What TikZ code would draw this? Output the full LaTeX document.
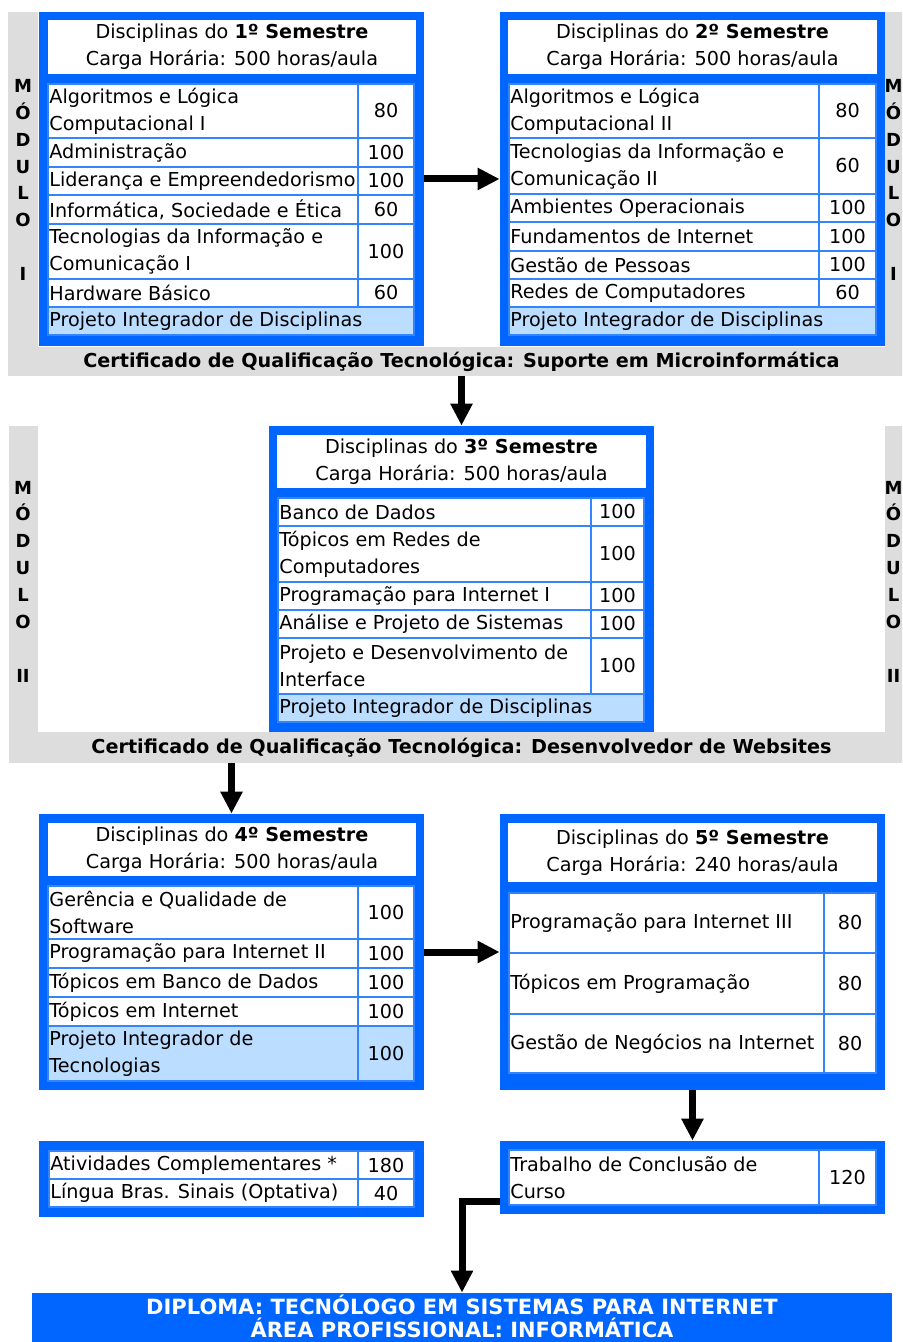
\documentclass[tikz,border=0pt]{standalone}
\usepackage{fontspec}
\setmainfont{DejaVu Sans}
\usetikzlibrary{fit,arrows.meta}
\definecolor{GradeBlue}{HTML}{0066FF}
\definecolor{GradeLine}{HTML}{3385FF}
\definecolor{GradeLight}{HTML}{BBDDFF}
\definecolor{GradeGray}{HTML}{DDDDDD}

\newcommand{\tabfont}{\fontsize{9.6pt}{13.5pt}\selectfont}

\tikzset{
  panel/.style={fill=GradeGray, inner sep=0pt},
  panelin/.style={fill=white, inner sep=0pt},
  bluebox/.style={fill=GradeBlue, inner sep=0pt},
  headbox/.style={fill=white, inner sep=0pt},
  headtext/.style={inner sep=0pt, align=center, font=\tabfont},
  cellbox/.style={draw=GradeLine, line width=1pt, inner sep=0pt},
  subjtext/.style={inner sep=1pt, align=left, font=\tabfont},
  hourtext/.style={inner sep=0pt, font=\tabfont},
  modtext/.style={align=center, font=\fontsize{9pt}{13.43pt}\selectfont\bfseries},
  certtext/.style={font=\fontsize{9.6pt}{11pt}\selectfont\bfseries},
  flow/.style={line width=3.5pt, -{Triangle[width=10.5pt,length=11pt]}},
}

% one subject row: [fill]{name}{top}{bottom}{subject}{hours}
\newcommand{\subj}[6][white]{%
  \node[cellbox, fill=#1, fit={(\tabL,#3) (\tabM,#4)}] (#2) {};
  \node[subjtext, anchor=west] (#2t) at (#2.west) {#5};
  \node[cellbox, fill=#1, fit={(\tabM,#3) (\tabR,#4)}] (#2h) {};
  \node[hourtext] (#2n) at (#2h.center) {#6};
}
% the light blue closing row
\newcommand{\projrow}[3]{%
  \node[cellbox, fill=GradeLight, fit={(\tabL,#2) (\tabR,#3)}] (#1) {};
  \node[subjtext, anchor=west] (#1t) at (#1.west) {Projeto Integrador de Disciplinas};
}

\begin{document}
\begin{tikzpicture}[x=0.5pt,y=-0.5pt]
\useasboundingbox (0,0) rectangle (902,1342);
\clip (0,0) rectangle (902,1342);

% module frames
\node[panel, fit={(8,12) (912,376)}] (panelA) {};
\node[panelin, fit={(38,12) (885,347)}] (panelAin) {};
\node[panel, fit={(9,426) (912,763)}] (panelB) {};
\node[panelin, fit={(38,426) (885,732)}] (panelBin) {};
\node[modtext] (modAl) at (23,180) {M\\Ó\\D\\U\\L\\O\\~\\I};
\node[modtext] (modAr) at (893.5,180) {M\\Ó\\D\\U\\L\\O\\~\\I};
\node[modtext] (modBl) at (23,581.5) {M\\Ó\\D\\U\\L\\O\\~\\II};
\node[modtext] (modBr) at (893.5,581.5) {M\\Ó\\D\\U\\L\\O\\~\\II};
\node[certtext] (certA) at (461.5,362) {Certificado de Qualificação Tecnológica: Suporte em Microinformática};
\node[certtext] (certB) at (461.5,748) {Certificado de Qualificação Tecnológica: Desenvolvedor de Websites};

% 1st semester
\node[bluebox, fit={(39,12) (424,346)}] (sem1) {};
\node[headbox, fit={(48,20) (416,74)}] (sem1head) {};
\node[headtext] (sem1title) at (sem1head.center) {Disciplinas do \textbf{1º Semestre}\\Carga Horária: 500 horas/aula};
\def\tabL{48}\def\tabM{358}\def\tabR{414}
\subj{s1a}{84}{138}{Algoritmos e Lógica\\Computacional I}{80}
\subj{s1b}{138}{167}{Administração}{100}
\subj{s1c}{167}{195}{Liderança e Empreendedorismo}{100}
\subj{s1d}{195}{224}{Informática, Sociedade e Ética}{60}
\subj{s1e}{224}{279}{Tecnologias da Informação e\\Comunicação I}{100}
\subj{s1f}{279}{307}{Hardware Básico}{60}
\projrow{s1g}{307}{335}

% 2nd semester
\node[bluebox, fit={(500,12) (885,346)}] (sem2) {};
\node[headbox, fit={(508,20) (877,74)}] (sem2head) {};
\node[headtext] (sem2title) at (sem2head.center) {Disciplinas do \textbf{2º Semestre}\\Carga Horária: 500 horas/aula};
\def\tabL{509}\def\tabM{819}\def\tabR{876}
\subj{s2a}{84}{138}{Algoritmos e Lógica\\Computacional II}{80}
\subj{s2b}{138}{194}{Tecnologias da Informação e\\Comunicação II}{60}
\subj{s2c}{194}{222}{Ambientes Operacionais}{100}
\subj{s2d}{222}{251}{Fundamentos de Internet}{100}
\subj{s2e}{251}{279}{Gestão de Pessoas}{100}
\subj{s2f}{279}{307}{Redes de Computadores}{60}
\projrow{s2g}{307}{335}

% 3rd semester
\node[bluebox, fit={(269,426) (654,732)}] (sem3) {};
\node[headbox, fit={(277,435) (646,488)}] (sem3head) {};
\node[headtext] (sem3title) at (sem3head.center) {Disciplinas do \textbf{3º Semestre}\\Carga Horária: 500 horas/aula};
\def\tabL{278}\def\tabM{591}\def\tabR{644}
\subj{s3a}{498}{526}{Banco de Dados}{100}
\subj{s3b}{526}{582}{Tópicos em Redes de\\Computadores}{100}
\subj{s3c}{582}{610}{Programação para Internet I}{100}
\subj{s3d}{610}{638}{Análise e Projeto de Sistemas}{100}
\subj{s3e}{638}{694}{Projeto e Desenvolvimento de\\Interface}{100}
\projrow{s3f}{694}{722}

% 4th semester
\node[bluebox, fit={(39,814) (424,1090)}] (sem4) {};
\node[headbox, fit={(48,823) (416,876)}] (sem4head) {};
\node[headtext] (sem4title) at (sem4head.center) {Disciplinas do \textbf{4º Semestre}\\Carga Horária: 500 horas/aula};
\def\tabL{48}\def\tabM{358}\def\tabR{414}
\subj{s4a}{886}{939}{Gerência e Qualidade de\\Software}{100}
\subj{s4b}{939}{968}{Programação para Internet II}{100}
\subj{s4c}{968}{997}{Tópicos em Banco de Dados}{100}
\subj{s4d}{997}{1026}{Tópicos em Internet}{100}
\subj[GradeLight]{s4e}{1026}{1081}{Projeto Integrador de\\Tecnologias}{100}

% 5th semester
\node[bluebox, fit={(500,814) (885,1090)}] (sem5) {};
\node[headbox, fit={(508,823) (877,882)}] (sem5head) {};
\node[headtext] (sem5title) at (sem5head.center) {Disciplinas do \textbf{5º Semestre}\\Carga Horária: 240 horas/aula};
\def\tabL{509}\def\tabM{824}\def\tabR{876}
\subj{s5a}{893}{953}{Programação para Internet III}{80}
\subj{s5b}{953}{1014}{Tópicos em Programação}{80}
\subj{s5c}{1014}{1073}{Gestão de Negócios na Internet}{80}

% extras and final work
\node[bluebox, fit={(39,1141) (424,1217)}] (extra) {};
\def\tabL{49}\def\tabM{358}\def\tabR{414}
\subj{exa}{1151}{1179}{Atividades Complementares *}{180}
\subj{exb}{1179}{1207}{Língua Bras. Sinais (Optativa)}{40}
\node[bluebox, fit={(500,1141) (885,1214)}] (tcc) {};
\def\tabL{509}\def\tabM{819}\def\tabR{876}
\subj{tcca}{1150}{1205}{Trabalho de Conclusão de\\Curso}{120}

% diploma
\node[bluebox, fit={(32,1293) (892,1380)}] (diploma) {};
\node[align=center, text=white, font=\fontsize{10.5pt}{11.5pt}\selectfont\bfseries] (diplomatext) at (462,1316) {DIPLOMA: TECNÓLOGO EM SISTEMAS PARA INTERNET\\ÁREA PROFISSIONAL: INFORMÁTICA};

% connectors
\draw[flow] (sem1) -- (sem2);
\draw[flow] (sem3.north |- panelA.south) -- (sem3.north);
\draw[flow] (sem4.north |- panelB.south) -- (sem4.north);
\draw[flow] (sem4) -- (sem5);
\draw[flow] (sem5) -- (tcc);
\coordinate (tccexit) at (500,1201);
\draw[flow] (tccexit) -| (diploma.north);
\end{tikzpicture}
\end{document}
